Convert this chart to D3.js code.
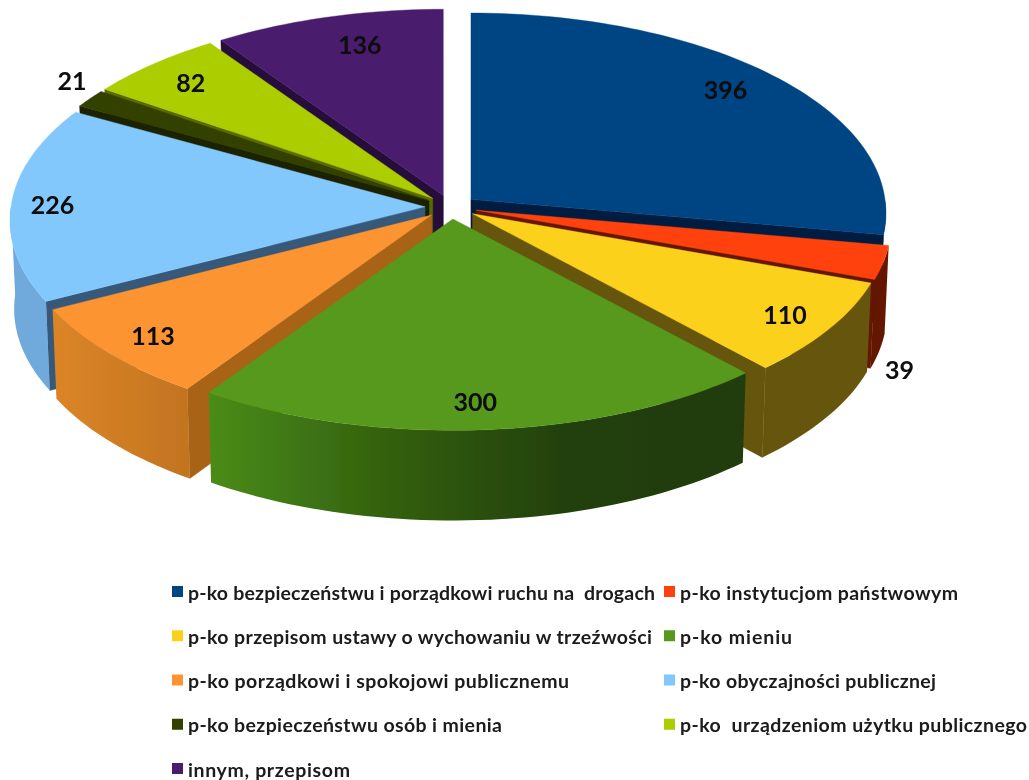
<!DOCTYPE html>
<html><head><meta charset="utf-8">
<script src="https://cdn.jsdelivr.net/npm/d3@7/dist/d3.min.js"></script>
<style>html,body{margin:0;padding:0;background:#fff}svg{display:block}</style>
</head><body><svg id="c" width="1029" height="780"></svg>
<script>
const categories = ["p-ko bezpieczeństwu i porządkowi ruchu na\u00a0 drogach","p-ko instytucjom państwowym","p-ko przepisom ustawy o wychowaniu w trzeźwości","p-ko mieniu","p-ko porządkowi i spokojowi publicznemu","p-ko obyczajności publicznej","p-ko bezpieczeństwu osób i mienia","p-ko \u00a0urządzeniom użytku publicznego","innym, przepisom"];
const values = [396,39,110,300,113,226,21,82,136];
const topColors = ["#004483","#ff430c","#fcd11f","#56991a","#fd9430","#83c8fd","#333f05","#accd00","#4a1f6d"];
const edgeColors = ["#001f3f","#651800","#66550e","#234008","#a86419","#38597a","#1a2000","#5a6a00","#25103a"];
const rimStops = [["#00305c","#00305c"],["#651800","#651800"],["#66550e","#66550e"],["#4a8c18","#33600f","#234008","#203c08"],["#dc8528","#c2741f"],["#6fa9dc","#6fa9dc"],["#1a2000","#1a2000"],["#5a6a00","#5a6a00"],["#25103a","#25103a"]];
const drawOrder = [8,0,7,6,5,1,2,4,3];
const labelRadius = [0.83,1.30,0.91,0.92,0.905,0.90,1.055,0.83,0.79];
const labelShift = [-2.3,23,0,0.8,0,0,3,0,2.4];
const legendWidths = [467,278,464,112,381,256,314,347,162];

const CX=451, CY=207, RX=414, RY=198, P=0.063, EX=26, EY=12, DEPTH=88;
const svg=d3.select("#c"), defs=svg.append("defs");
defs.append("filter").attr("id","soft").attr("x","-2%").attr("y","-2%").attr("width","104%").attr("height","104%")
  .append("feGaussianBlur").attr("stdDeviation",0.45);
const root=svg.append("g").attr("filter","url(#soft)");
const toRad=Math.PI/180;
const arcs=d3.pie().sort(null).value(d=>d)(values);
const line=d3.line();

function apex(a){const m=(a.startAngle+a.endAngle)/2;return [CX+EX*Math.sin(m),CY-EY*Math.cos(m)];}
function topPt(A,t,r){const c=Math.cos(t),k=1/(1+P*r*c),kx=k*(1+0.007*r*Math.max(0,-c));return [A[0]+RX*r*Math.sin(t)*kx,A[1]-RY*r*c*k];}
function botPt(A,t,r){const p=topPt(A,t,r);return [A[0]+(p[0]-A[0])*0.99,p[1]+DEPTH*(1-0.025*r*Math.cos(t))];}
function arcAngles(a0,a1){const n=Math.max(2,Math.ceil((a1-a0)/(1.5*toRad)));return d3.range(n+1).map(i=>a0+(a1-a0)*i/n);}

const pie=root.append("g");
drawOrder.forEach(i=>{
  const a=arcs[i],A=apex(a),s=a.startAngle,e=a.endAngle,g=pie.append("g");
  const radial=t=>g.append("path").attr("d",line([A,topPt(A,t,1),botPt(A,t,1),botPt(A,t,0)])+"Z").attr("fill",edgeColors[i]).attr("stroke",edgeColors[i]).attr("stroke-width",0.5);
  if(Math.sin(s)<-1e-6) radial(s);
  if(Math.sin(e)>1e-6) radial(e);
  const r0=Math.max(s,Math.PI/2), r1=Math.min(e,1.5*Math.PI);
  if(r1>r0){
    const ts=arcAngles(r0,r1);
    const pts=ts.map(t=>topPt(A,t,1)).concat(ts.slice().reverse().map(t=>botPt(A,t,1)));
    const ex=d3.extent(pts,p=>p[0]);
    const id="rim"+i;
    const gr=defs.append("linearGradient").attr("id",id).attr("gradientUnits","userSpaceOnUse").attr("x1",ex[0]).attr("x2",ex[1]).attr("y1",0).attr("y2",0);
    rimStops[i].forEach((c,j,l)=>gr.append("stop").attr("offset",j/(l.length-1)).attr("stop-color",c));
    g.append("path").attr("d",line(pts)+"Z").attr("fill",`url(#${id})`);
  }
  const face=[A].concat(arcAngles(s,e).map(t=>topPt(A,t,1)));
  g.append("path").attr("d",line(face)+"Z").attr("fill",topColors[i]).attr("stroke",topColors[i]).attr("stroke-width",0.4);
});

const FONT="Lato, 'Open Sans', sans-serif";
arcs.forEach((a,i)=>{
  const A=apex(a),m=(a.startAngle+a.endAngle)/2+labelShift[i]*toRad,r=labelRadius[i];
  root.append("text").attr("x",A[0]+RX*r*Math.sin(m)).attr("y",A[1]-RY*r*Math.cos(m))
    .attr("text-anchor","middle").attr("dominant-baseline","central")
    .attr("font-family",FONT).attr("font-weight",700).attr("font-size",25).attr("fill","#0a0a0a").text(values[i]);
});

const colX=d3.scaleOrdinal().domain([0,1]).range([172,664]);
const rowY=d3.scaleLinear().domain([0,4]).range([592,769]);
categories.forEach((c,i)=>{
  const cx=colX(i%2), cy=rowY(Math.floor(i/2));
  root.append("rect").attr("x",cx).attr("y",cy-6).attr("width",11).attr("height",11).attr("fill",topColors[i]);
  root.append("text").attr("x",cx+16).attr("y",cy).attr("dominant-baseline","central").attr("xml:space","preserve")
    .attr("textLength",legendWidths[i]).attr("lengthAdjust","spacing")
    .attr("font-family",FONT).attr("font-weight",700).attr("font-size",19.5).attr("fill","#1a1a1a").text(c);
});
</script></body></html>
